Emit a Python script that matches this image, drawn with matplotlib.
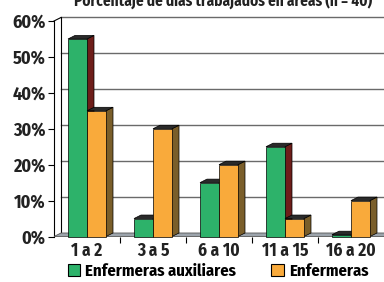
import matplotlib
matplotlib.use("Agg")
import matplotlib.pyplot as plt
from matplotlib.patches import Rectangle, Polygon, Patch

plt.rcParams['font.family'] = ['Fira Sans Condensed', 'DejaVu Sans']

categories = ['1 a 2', '3 a 5', '6 a 10', '11 a 15', '16 a 20']
auxiliares = [55, 5, 15, 25, 0.5]
enfermeras = [35, 30, 20, 5, 10]
yticks = [0, 10, 20, 30, 40, 50, 60]
title = 'Porcentaje de días trabajados en áreas (n = 40)'

green, green_side = '#2db26a', '#6e1e1a'
orange, orange_side = '#f9aa3b', '#7a5e2a'
top_col = '#2a2a2a'

W, H = 384, 282
fig = plt.figure(figsize=(W / 100, H / 100), dpi=100)
ax = fig.add_axes([54 / W, (H - 236.5) / H, 330 / W, 215.5 / H])
ax.set_xlim(0, 5)
ax.set_ylim(0, 60)

dx, dy = 7 / 66, 3.5 / 3.59
bw = 19 / 66

# back wall + gridlines
for v in yticks[1:]:
    ax.plot([dx, 5 + dx], [v + dy, v + dy], color='#6a6a6a', lw=1, clip_on=False, zorder=1)
ax.plot([dx, dx], [dy, 60 + dy], color='black', lw=0.8, clip_on=False, zorder=1)
ax.plot([0, 0], [0, 60], color='black', lw=0.8, clip_on=False, zorder=1)
ax.plot([0, dx], [60, 60 + dy], color='black', lw=0.8, clip_on=False, zorder=1)

# floor
ax.add_patch(Polygon([(0, 0), (5, 0), (5 + dx, dy), (dx, dy)], closed=True,
                     facecolor='#9ca4ac', edgecolor='#555555', lw=0.6, clip_on=False, zorder=2))


def bar3d(x0, v, face, side):
    kw = dict(edgecolor='black', lw=0.5, clip_on=False, zorder=3)
    ax.add_patch(Polygon([(x0 + bw, 0), (x0 + bw + dx, dy), (x0 + bw + dx, v + dy), (x0 + bw, v)],
                         closed=True, facecolor=side, **kw))
    ax.add_patch(Polygon([(x0, v), (x0 + bw, v), (x0 + bw + dx, v + dy), (x0 + dx, v + dy)],
                         closed=True, facecolor=top_col, **kw))
    ax.add_patch(Rectangle((x0, 0), bw, v, facecolor=face, **kw))


for i in range(len(categories)):
    c = i + 0.5
    bar3d(c - bw, auxiliares[i], green, green_side)
    bar3d(c, enfermeras[i], orange, orange_side)

for s in ax.spines.values():
    s.set_visible(False)

ax.set_yticks(yticks)
ax.set_yticklabels([f'{v}%' for v in yticks], fontsize=13, fontweight='bold', color='#222222')
ax.tick_params(axis='y', length=4, width=0.8, pad=2)

ax.set_xticks([i + 0.5 for i in range(len(categories))])
ax.set_xticklabels(categories, fontsize=12.5, fontweight='bold', color='#222222')
ax.set_xticks([1, 2, 3, 4], minor=True)
ax.tick_params(axis='x', which='major', length=0, pad=4)
ax.tick_params(axis='x', which='minor', length=4, width=0.8)

fig.text(0.58, 1.0, title, ha='center', va='center', fontsize=11,
         fontweight='bold', color='#222222')

handles = [Patch(facecolor=green, edgecolor='black', lw=0.8),
           Patch(facecolor=orange, edgecolor='black', lw=0.8)]
fig.legend(handles, ['Enfermeras auxiliares', 'Enfermeras'], loc='center',
           bbox_to_anchor=(0.568, 11 / H), ncol=2, frameon=False,
           prop={'size': 12, 'weight': 'bold'}, handlelength=0.75, handleheight=0.75,
           handletextpad=0.3, columnspacing=2.1, borderpad=0)

fig.savefig('out.png', dpi=100)
